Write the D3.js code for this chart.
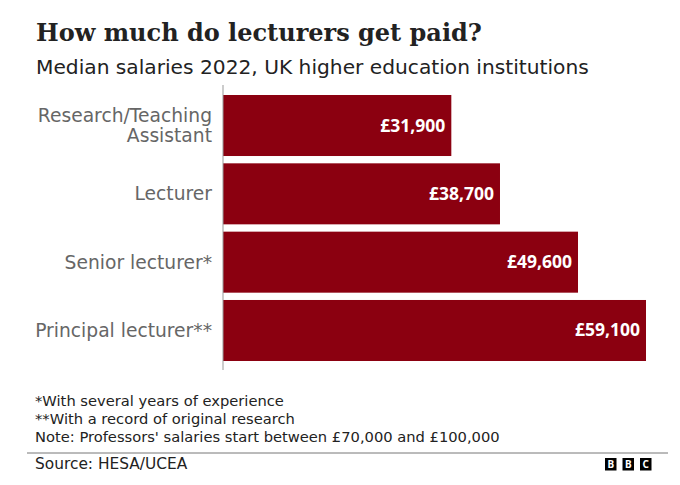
<!DOCTYPE html>
<html>
<head>
<meta charset="utf-8">
<script src="https://cdn.jsdelivr.net/npm/d3@7"></script>
<style>
  body { margin: 0; background: #fff; }
  svg { display: block; }
</style>
</head>
<body>
<div id="chart"></div>
<script>
// data
const categories = ["Research/Teaching\nAssistant", "Lecturer", "Senior lecturer*", "Principal lecturer**"];
const salaries = [31900, 38700, 49600, 59100];
const notes = [
  "*With several years of experience",
  "**With a record of original research",
  "Note: Professors' salaries start between \u00a370,000 and \u00a3100,000"
];
const titleText = "How much do lecturers get paid?";
const subtitleText = "Median salaries 2022, UK higher education institutions";
const sourceText = "Source: HESA/UCEA";

const width = 680, height = 485;
const sans = "'DejaVu Sans', sans-serif";
const boldSans = "'Noto Sans', sans-serif";

const svg = d3.select("#chart")
  .append("svg")
  .attr("width", width)
  .attr("height", height);

svg.append("rect").attr("width", width).attr("height", height).attr("fill", "#fff");

svg.append("text")
  .attr("x", 36).attr("y", 41)
  .attr("font-family", "'DejaVu Serif', serif")
  .attr("font-weight", "bold")
  .attr("font-size", 24)
  .attr("fill", "#222")
  .text(titleText);

svg.append("text")
  .attr("x", 36).attr("y", 74)
  .attr("font-family", sans)
  .attr("font-size", 20.2)
  .attr("fill", "#222")
  .text(subtitleText);

const x = d3.scaleLinear()
  .domain([0, d3.max(salaries)])
  .range([223, 646]);

const y = d3.scaleBand()
  .domain(categories)
  .range([95, 361])
  .paddingInner(0.107)
  .paddingOuter(0);

const fmt = d3.format(",");

// bars
svg.append("g")
  .selectAll("rect")
  .data(salaries)
  .enter()
  .append("rect")
  .attr("x", x(0))
  .attr("y", (d, i) => y(categories[i]))
  .attr("width", d => x(d) - x(0))
  .attr("height", y.bandwidth())
  .attr("fill", "#8b0010");

// value labels
svg.append("g")
  .selectAll("text")
  .data(salaries)
  .enter()
  .append("text")
  .attr("x", d => x(d) - 6)
  .attr("y", (d, i) => y(categories[i]) + y.bandwidth() / 2 + 6)
  .attr("text-anchor", "end")
  .attr("font-family", boldSans)
  .attr("font-weight", "bold")
  .attr("font-size", 17.5)
  .attr("fill", "#fff")
  .text(d => "\u00a3" + fmt(d));

// category labels
const labels = svg.append("g")
  .selectAll("text")
  .data(categories)
  .enter()
  .append("text")
  .attr("text-anchor", "end")
  .attr("font-family", sans)
  .attr("font-size", 18.7)
  .attr("fill", "#666");

labels.each(function (d) {
  const lines = d.split("\n");
  const mid = y(d) + y.bandwidth() / 2;
  const lh = 20;
  const first = mid + 6.5 - (lines.length - 1) * lh / 2;
  d3.select(this).selectAll("tspan")
    .data(lines)
    .enter()
    .append("tspan")
    .attr("x", 212)
    .attr("y", (l, j) => first + j * lh)
    .text(l => l);
});

// axis line
svg.append("line")
  .attr("x1", x(0)).attr("x2", x(0))
  .attr("y1", y.range()[0] - 10).attr("y2", y.range()[1] + 9)
  .attr("stroke", "#999")
  .attr("stroke-width", 1);

// notes
svg.append("g")
  .selectAll("text")
  .data(notes)
  .enter()
  .append("text")
  .attr("x", 35)
  .attr("y", (d, i) => 405.5 + i * 18.2)
  .attr("font-family", sans)
  .attr("font-size", 14.7)
  .attr("fill", "#222")
  .text(d => d);

svg.append("line")
  .attr("x1", 27).attr("x2", 668)
  .attr("y1", 453).attr("y2", 453)
  .attr("stroke", "#777")
  .attr("stroke-width", 1);

svg.append("text")
  .attr("x", 35).attr("y", 469)
  .attr("font-family", sans)
  .attr("font-size", 15.4)
  .attr("fill", "#222")
  .text(sourceText);

// BBC blocks
const logo = svg.append("g").attr("transform", "translate(605,458)");
["B", "B", "C"].forEach((ch, i) => {
  logo.append("rect")
    .attr("x", i * 17.5).attr("y", 0)
    .attr("width", 11.5).attr("height", 12.5)
    .attr("fill", "#000");
  logo.append("text")
    .attr("x", i * 17.5 + 5.75).attr("y", 10)
    .attr("text-anchor", "middle")
    .attr("font-family", boldSans)
    .attr("font-weight", "bold")
    .attr("font-size", 10)
    .attr("fill", "#fff")
    .text(ch);
});
</script>
</body>
</html>
